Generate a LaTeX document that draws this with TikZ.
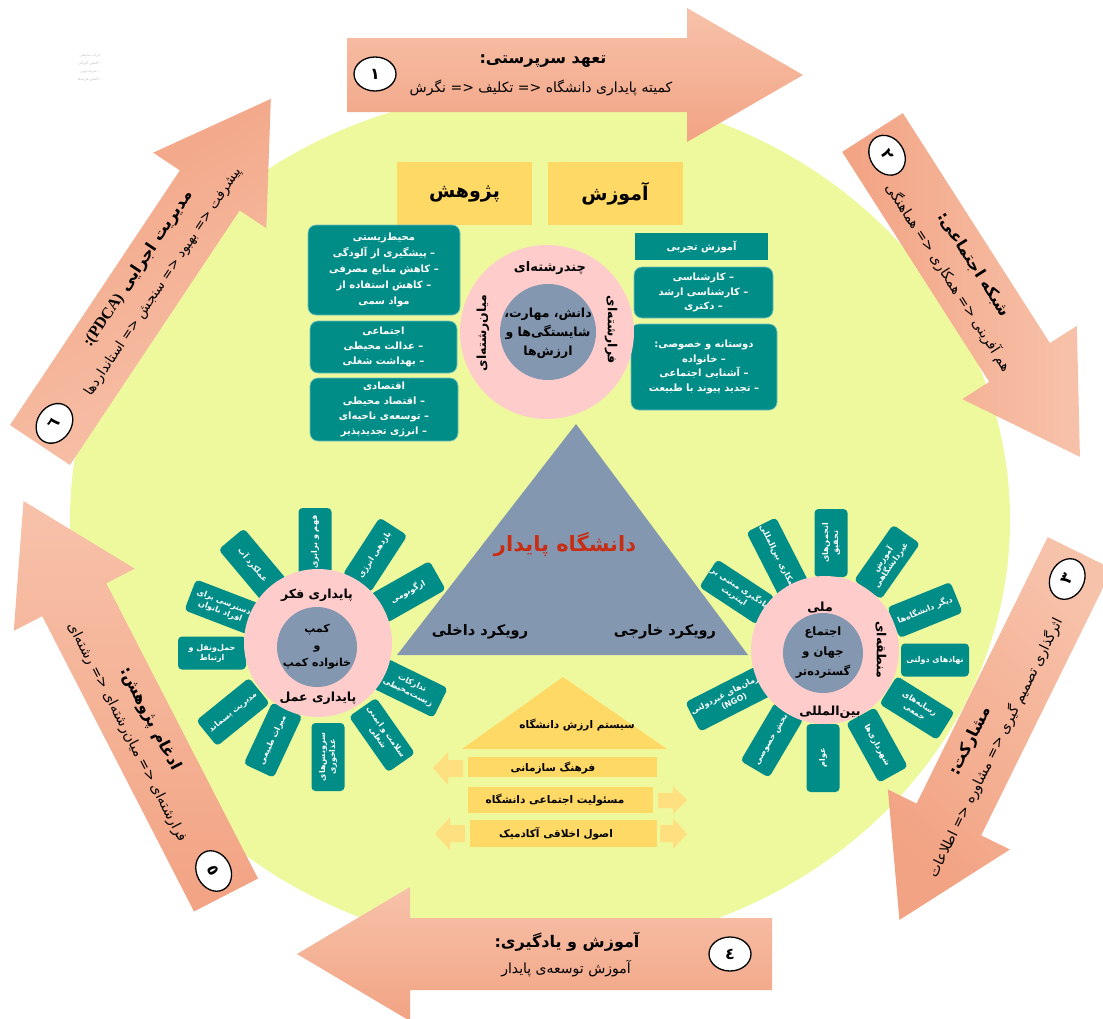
\documentclass[tikz,border=0pt]{standalone}
\usepackage{fontspec}
\newfontfamily\fa[Script=Arabic]{DejaVu Sans}
\newfontfamily\latserif{Liberation Serif}
\TeXXeTstate=1
\usetikzlibrary{shapes.geometric}
\newcommand{\fatx}[1]{\beginR #1\endR}
\definecolor{bgy}{RGB}{238,249,158}
\definecolor{tealc}{RGB}{0,140,135}
\definecolor{pinkc}{RGB}{255,204,204}
\definecolor{slatec}{RGB}{132,151,176}
\definecolor{goldc}{RGB}{255,217,102}
\definecolor{goldl}{RGB}{255,224,128}
\definecolor{salD}{RGB}{242,163,131}
\definecolor{salL}{RGB}{247,194,170}
\definecolor{redt}{RGB}{200,45,20}
\tikzset{
  numc/.style={ellipse, draw=black, line width=1.3pt, fill=white, minimum width=42pt, minimum height=34pt, inner sep=0pt, font=\fa\bfseries\fontsize{16}{16}\selectfont},
  atitle/.style={inner sep=0pt, font=\fa\bfseries\fontsize{16}{18}\selectfont},
  asub/.style={inner sep=0pt, font=\fa\fontsize{14}{16}\selectfont},
  goldb/.style={fill=goldc, minimum width=135pt, minimum height=63pt, inner sep=0pt, font=\fa\bfseries\fontsize{19}{20}\selectfont},
  tbox/.style={fill=tealc, draw=tealc!55!white, line width=0.7pt, rounded corners=8pt, text=white, align=center, inner sep=0pt, font=\fa\bfseries\fontsize{10}{16}\selectfont},
  petal/.style={fill=tealc, rounded corners=4pt, minimum width=68pt, minimum height=33pt, inner sep=1pt, text=white, align=center, font=\fa\bfseries\fontsize{8}{10}\selectfont},
  clab/.style={inner sep=0pt, font=\fa\bfseries\fontsize{12.5}{14}\selectfont},
  ctext/.style={inner sep=0pt, align=center, font=\fa\bfseries\fontsize{12.5}{19}\selectfont},
  hbar/.style={fill=goldc, inner sep=0pt, font=\fa\bfseries\fontsize{10.5}{12}\selectfont},
  disk/.style={circle, inner sep=0pt},
}
\begin{document}
\begin{tikzpicture}[x=1pt,y=-1pt]
\useasboundingbox (0,0) rectangle (1103,1018);
\fill[white] (0,0) rectangle (1103,1018);
\clip (0,0) rectangle (1103,1018);

% background ellipse
\fill[bgy] (540,520) ellipse [x radius=470, y radius=430];

% faint ghost text
\node[inner sep=0pt, align=center, text=black!22, font=\fa\fontsize{3.6}{8}\selectfont] (ghost) at (90,68)
  {\fatx{اثرات محیطی}\\\fatx{– کاهش آلودگی}\\\fatx{– صرفه‌جویی}\\\fatx{– کاهش هزینه‌ها}};

% ---------- arrow 1 (top)
\begin{scope}[shift={(347,75)}, every node/.append style={transform shape}]
  \shade[top color=salL, bottom color=salD] (0,-37) -- (340,-37) -- (340,-67) -- (456,0) -- (340,67) -- (340,37) -- (0,37) -- cycle;
  \node[numc] (n1) at (28,-1) {\fatx{١}};
  \node[atitle] (t1) at (196,-14) {\fatx{تعهد سرپرستی:}};
  \node[asub] (s1) at (194,13) {\fatx{کمیته پایداری دانشگاه <= تکلیف <= نگرش}};
\end{scope}

% ---------- arrow 2 (top right)
\begin{scope}[shift={(872.5,132.5)}, rotate=-57.4, every node/.append style={transform shape}]
  \shade[top color=salL, bottom color=salD, shading angle=-90] (0,-36) -- (273,-36) -- (273,-68) -- (385,0) -- (273,68) -- (273,36) -- (0,36) -- cycle;
  \node[numc] (n2) at (27,0) {\fatx{٢}};
  \node[atitle] (t2) at (166,-14) {\fatx{شبکه اجتماعی:}};
  \node[asub] (s2) at (163,14) {\fatx{هم آفرینی <= همکاری <= هماهنگی}};
\end{scope}

% ---------- arrow 3 (right)
\begin{scope}[shift={(1080,553)}, rotate=-116.2, every node/.append style={transform shape}]
  \shade[top color=salL, bottom color=salD, shading angle=-45] (0,-36) -- (297,-36) -- (297,-68) -- (409,0) -- (297,68) -- (297,36) -- (0,36) -- cycle;
  \node[numc, rotate=180] (n3) at (29,0) {\fatx{٣}};
  \node[atitle, rotate=180] (t3) at (217,15) {\fatx{مشارکت:}};
  \node[asub, rotate=180] (s3) at (212,-10) {\fatx{اثرگذاری تصمیم گیری <= مشاوره <= اطلاعات}};
\end{scope}

% ---------- arrow 4 (bottom)
\begin{scope}[shift={(772,954)}, rotate=180, every node/.append style={transform shape}]
  \shade[top color=salL, bottom color=salD] (0,-36) -- (362,-36) -- (362,-67) -- (475,0) -- (362,67) -- (362,36) -- (0,36) -- cycle;
  \node[numc, rotate=180] (n4) at (42,0) {\fatx{٤}};
  \node[atitle, rotate=180] (t4) at (205,12) {\fatx{آموزش و یادگیری:}};
  \node[asub, rotate=180] (s4) at (206,-15) {\fatx{آموزش توسعه‌ی پایدار}};
\end{scope}

% ---------- arrow 5 (bottom left)
\begin{scope}[shift={(226,895)}, rotate=117.2, every node/.append style={transform shape}]
  \shade[top color=salL, bottom color=salD] (0,-36) -- (332,-36) -- (332,-68) -- (443,0) -- (332,68) -- (332,36) -- (0,36) -- cycle;
  \node[numc, rotate=180] (n5) at (27,0) {\fatx{٥}};
  \node[atitle, rotate=180] (t5) at (191,13) {\fatx{ادغام پژوهش:}};
  \node[asub, rotate=180] (s5) at (190,-14) {\fatx{فرارشته‌ای <= میان‌رشته‌ای <= رشته‌ای}};
\end{scope}

% ---------- arrow 6 (top left)
\begin{scope}[shift={(40,445)}, rotate=56.3, every node/.append style={transform shape}]
  \shade[top color=salL, bottom color=salD, shading angle=-150] (0,-36) -- (306,-36) -- (306,-68) -- (416,0) -- (306,68) -- (306,36) -- (0,36) -- cycle;
  \node[numc] (n6) at (26,0) {\fatx{٦}};
  \node[atitle] (t6) at (201,-16) {\fatx{مدیریت اجرایی {\latserif :(PDCA)}}};
  \node[asub, font=\fa\fontsize{13.5}{16}\selectfont] (s6) at (204,12) {\fatx{پیشرفت <= بهبود <= سنجش <= استانداردها}};
\end{scope}

% ---------- top: research / education
\node[goldb] (pj) at (464.5,193.5) {\fatx{پژوهش}};
\node[goldb] (am) at (615,193.5) {\fatx{آموزش}};

% left teal boxes
\node[tbox, minimum width=152pt, minimum height=90pt] (lb1) at (384,270)
  {\fatx{محیط‌زیستی}\\\fatx{– پیشگیری از آلودگی}\\\fatx{– کاهش منابع مصرفی}\\\fatx{– کاهش استفاده از}\\\fatx{مواد سمی}};
\node[tbox, minimum width=147pt, minimum height=52pt, font=\fa\bfseries\fontsize{10}{15}\selectfont] (lb2) at (383.5,347)
  {\fatx{اجتماعی}\\\fatx{– عدالت محیطی}\\\fatx{– بهداشت شغلی}};
\node[tbox, minimum width=148pt, minimum height=63pt, font=\fa\bfseries\fontsize{10}{15}\selectfont] (lb3) at (384,409.5)
  {\fatx{اقتصادی}\\\fatx{– اقتصاد محیطی}\\\fatx{– توسعه‌ی ناحیه‌ای}\\\fatx{– انرژی تجدیدپذیر}};

% right teal boxes
\node[tbox, rounded corners=0pt, draw=none, minimum width=133pt, minimum height=27pt] (rb1) at (701.5,246.5) {\fatx{آموزش تجربی}};
\node[tbox, minimum width=139pt, minimum height=51pt, font=\fa\bfseries\fontsize{10}{14.5}\selectfont] (rb2) at (703.5,292.5)
  {\fatx{– کارشناسی}\\\fatx{– کارشناسی ارشد}\\\fatx{– دکتری}};
\node[tbox, minimum width=146pt, minimum height=86pt, font=\fa\bfseries\fontsize{10}{14.7}\selectfont] (rb3) at (704,367)
  {\fatx{دوستانه و خصوصی:}\\\fatx{– خانواده}\\\fatx{– آشنایی اجتماعی}\\\fatx{– تجدید پیوند با طبیعت}};

% central circle
\node[disk, fill=pinkc, minimum size=174pt] (cpink) at (547,332) {};
\node[disk, fill=slatec, minimum size=96pt] (cslate) at (548,332) {};
\node[clab, font=\fa\bfseries\fontsize{13}{14}\selectfont] (chand) at (550,268) {\fatx{چندرشته‌ای}};
\node[clab, rotate=90] (mian) at (483,333) {\fatx{میان‌رشته‌ای}};
\node[clab, rotate=-90] (fara) at (611,330) {\fatx{فرارشته‌ای}};
\node[ctext] (dans) at (548,333) {\fatx{دانش، مهارت،}\\\fatx{شایستگی‌ها و}\\\fatx{ارزش‌ها}};

% triangle
\fill[slatec] (576,424) -- (748,655) -- (397,655) -- cycle;
\node[inner sep=0pt, text=redt, font=\fa\bfseries\fontsize{21}{22}\selectfont] (dp) at (565,545) {\fatx{دانشگاه پایدار}};
\node[inner sep=0pt, font=\fa\bfseries\fontsize{14.5}{16}\selectfont] (rd) at (480,632) {\fatx{رویکرد داخلی}};
\node[inner sep=0pt, font=\fa\bfseries\fontsize{14.5}{16}\selectfont] (rk) at (665,632) {\fatx{رویکرد خارجی}};

% left petals
\node[petal, rotate=-50] (lp1) at (253,565) {\fatx{عملکرد آب}};
\node[petal, rotate=90] (lp2) at (315,542) {\fatx{فهم و برابری}};
\node[petal, rotate=57] (lp3) at (375,555) {\fatx{بازدهی انرژی}};
\node[petal, rotate=29.5] (lp4) at (408,592) {\fatx{ارگونومی}};
\node[petal, rotate=-26] (lp5) at (410,688) {\fatx{تدارکات}\\\fatx{زیست‌محیطی}};
\node[petal, rotate=-55] (lp6) at (382,735) {\fatx{سلامت و ایمنی}\\\fatx{شغلی}};
\node[petal, rotate=90] (lp7) at (328,757) {\fatx{سرویس‌های}\\\fatx{غذاخوری}};
\node[petal, rotate=65] (lp8) at (273,740) {\fatx{میراث طبیعی}};
\node[petal, rotate=39] (lp9) at (233,712) {\fatx{مدیریت پسماند}};
\node[petal, rotate=0] (lp10) at (212,653) {\fatx{حمل‌ونقل و}\\\fatx{ارتباط}};
\node[petal, rotate=-21] (lp11) at (222,607) {\fatx{دسترسی برای}\\\fatx{افراد ناتوان}};

% left circle
\node[disk, fill=pinkc, minimum size=148pt] (lpink) at (318,643) {};
\node[disk, fill=slatec, minimum size=80pt] (lslate) at (317,647) {};
\node[clab] (pf) at (317,595) {\fatx{پایداری فکر}};
\node[clab] (pa) at (318,698) {\fatx{پایداری عمل}};
\node[ctext, font=\fa\bfseries\fontsize{11}{17}\selectfont] (kmp) at (317,647) {\fatx{کمپ}\\\fatx{و}\\\fatx{خانواده کمپ}};

% right petals
\node[petal, rotate=90] (rp1) at (831,543) {\fatx{انجمن‌های}\\\fatx{تحقیق}};
\node[petal, rotate=-63] (rp2) at (778,558) {\fatx{همکاری بین‌المللی}};
\node[petal, rotate=-33.4] (rp3) at (737,592) {\fatx{یادگیری مبتنی بر}\\\fatx{اینترنت}};
\node[petal, rotate=55] (rp4) at (887,562) {\fatx{آموزش}\\\fatx{غیردانشگاهی}};
\node[petal, rotate=22] (rp5) at (925,610) {\fatx{دیگر دانشگاه‌ها}};
\node[petal, rotate=0] (rp6) at (935,660) {\fatx{نهادهای دولتی}};
\node[petal, rotate=-32] (rp7) at (917,708) {\fatx{رسانه‌های}\\\fatx{جمعی}};
\node[petal, rotate=-61] (rp8) at (877,745) {\fatx{شهرداری‌ها}};
\node[petal, rotate=90] (rp9) at (823,758) {\fatx{عوام}};
\node[petal, rotate=59.5] (rp10) at (772,740) {\fatx{بخش خصوصی}};
\node[petal, rotate=27] (rp11) at (732,697) {\fatx{سازمان‌های غیردولتی}\\\fatx{(NGO)}};

% right circle
\node[disk, fill=pinkc, minimum size=148pt] (rpink) at (825,650) {};
\node[disk, fill=slatec, minimum size=80pt] (rslate) at (823,653) {};
\node[clab] (mli) at (820,608) {\fatx{ملی}};
\node[clab] (bml) at (830,712) {\fatx{بین‌المللی}};
\node[clab, rotate=-90] (mnt) at (881,650) {\fatx{منطقه‌ای}};
\node[ctext, font=\fa\bfseries\fontsize{11.5}{20}\selectfont] (ejt) at (823,653) {\fatx{اجتماع}\\\fatx{جهان و}\\\fatx{گسترده‌تر}};

% value system house
\fill[goldc] (563,677) -- (667,749) -- (462,749) -- cycle;
\node[inner sep=0pt, font=\fa\bfseries\fontsize{10.5}{12}\selectfont] (sys) at (577,725) {\fatx{سیستم ارزش دانشگاه}};
\node[hbar, minimum width=189pt, minimum height=20pt] (bar1) at (562.5,767) {};
\node[hbar, minimum width=185pt, minimum height=26pt] (bar2) at (560.5,800) {};
\node[hbar, minimum width=187pt, minimum height=27pt] (bar3) at (563.5,833.5) {};
\node[hbar, fill=none] (bt1) at (553,768) {\fatx{فرهنگ سازمانی}};
\node[hbar, fill=none] (bt2) at (555,800) {\fatx{مسئولیت اجتماعی دانشگاه}};
\node[hbar, fill=none] (bt3) at (556,834) {\fatx{اصول اخلاقی آکادمیک}};
\fill[goldl] (463,760) -- (448,760) -- (448,752) -- (433,768) -- (448,785) -- (448,777) -- (463,777) -- cycle;
\fill[goldl] (658,793) -- (673,793) -- (673,786) -- (687,800) -- (673,814) -- (673,808) -- (658,808) -- cycle;
\fill[goldl] (465,825) -- (450,825) -- (450,817) -- (435,834) -- (450,850) -- (450,842) -- (465,842) -- cycle;
\fill[goldl] (660,825) -- (673,825) -- (673,818) -- (687,834) -- (673,849) -- (673,842) -- (660,842) -- cycle;
\end{tikzpicture}
\end{document}
